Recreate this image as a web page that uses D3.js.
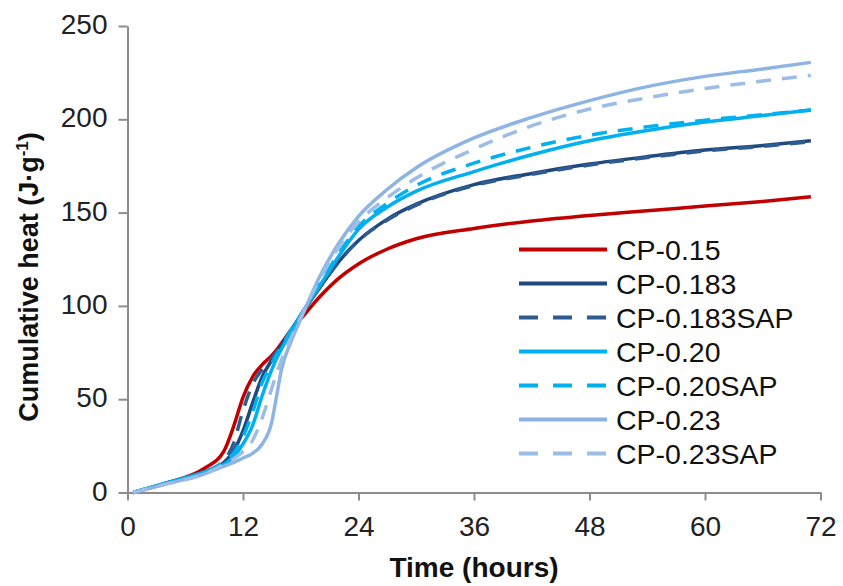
<!DOCTYPE html>
<html>
<head>
<meta charset="utf-8">
<script src="https://cdn.jsdelivr.net/npm/d3@7"></script>
<style>
  body { margin: 0; background: #fff; }
  svg { display: block; font-family: "Liberation Sans", Arial, Helvetica, sans-serif; }
</style>
</head>
<body>
<div id="chart"></div>
<script>
// sampling times (hours) shared by all series
const hours = [0.6, 4, 8, 10, 11, 12, 13, 14, 15, 15.5, 16, 17, 18, 20, 22, 24, 27, 30, 36, 42, 48, 54, 60, 66, 71];

// cumulative heat (J/g)
const cp015     = [0, 5, 13, 22, 35, 51, 62, 68.5, 73.5, 76.5, 80, 87, 93, 105, 115, 122.5, 130.5, 136, 141.5, 145.5, 148.5, 151, 153.5, 156, 158.5];
const cp0183    = [0, 5, 11, 16, 22, 33, 48, 62, 71, 75, 79, 87, 95, 110, 124, 135, 146.5, 154.5, 165, 171, 176, 180, 183.5, 186, 188.5];
const cp0183sap = [0, 5, 11, 17, 26, 44, 58, 66, 72, 75.5, 79, 87, 95, 110, 124, 135, 146, 154, 164.5, 170.5, 175.5, 179.5, 183, 185.5, 188];
const cp020     = [0, 5, 11, 15, 19, 26, 36, 52, 66, 72, 77, 86, 95, 111, 127, 141, 153, 161.5, 172, 181, 188.5, 194, 198.5, 202, 205];
const cp020sap  = [0, 5, 11, 16, 21, 30, 43, 59, 69, 74, 78, 87, 95, 112, 128.5, 142.5, 155, 164.5, 176.5, 185, 191.5, 196, 199.5, 202.5, 205];
const cp023     = [0, 4.5, 10, 14, 16, 18.5, 21, 26, 38, 52, 66, 81, 93, 116, 134, 148, 162.5, 174, 190, 201, 210, 217.5, 223, 227, 230.5];
const cp023sap  = [0, 4.5, 10, 15, 18, 22, 28, 40, 56, 64, 71, 83, 94, 114.5, 132, 145, 158, 168.5, 184, 196.5, 205.5, 211.5, 216.5, 220.5, 223.5];

const seriesNames = ['CP-0.15', 'CP-0.183', 'CP-0.183SAP', 'CP-0.20', 'CP-0.20SAP', 'CP-0.23', 'CP-0.23SAP'];
const seriesValues = [cp015, cp0183, cp0183sap, cp020, cp020sap, cp023, cp023sap];
const seriesColors = ['#C00000', '#1F497D', '#2E5C92', '#00B0F0', '#00B0F0', '#8DB4E2', '#9DBDE6'];
const seriesDashed = [false, false, true, false, true, false, true];

const xTicks = [0, 12, 24, 36, 48, 60, 72];
const yTicks = [0, 50, 100, 150, 200, 250];

const width = 843, height = 586;
const margin = {left: 127.5, right: 22.5, top: 26, bottom: 93.5};

const svg = d3.select('#chart').append('svg')
    .attr('width', width)
    .attr('height', height);

const x = d3.scaleLinear().domain([0, 72]).range([margin.left, width - margin.right]);
const y = d3.scaleLinear().domain([0, 250]).range([height - margin.bottom, margin.top]);

// axes
const axisColor = '#8C8C8C';

const xAxis = svg.append('g')
    .attr('transform', `translate(0,${y(0)})`)
    .call(d3.axisBottom(x).tickValues(xTicks).tickSize(8).tickSizeOuter(0).tickPadding(16));
const yAxis = svg.append('g')
    .attr('transform', `translate(${x(0)},0)`)
    .call(d3.axisLeft(y).tickValues(yTicks).tickSize(9).tickSizeOuter(0).tickPadding(11));

[xAxis, yAxis].forEach(a => {
    a.select('.domain').attr('stroke', axisColor).attr('stroke-width', 2);
    a.selectAll('.tick line').attr('stroke', axisColor).attr('stroke-width', 2);
    a.selectAll('.tick text')
        .attr('fill', '#222')
        .style('font-size', '28px')
        .style('font-family', '"Liberation Sans", Arial, sans-serif');
});
yAxis.selectAll('.tick text').attr('dy', '0.27em');
xAxis.selectAll('.tick text').attr('dy', '0.71em');

// lines
const line = d3.line()
    .x((d, i) => x(hours[i]))
    .y(d => y(d))
    .curve(d3.curveMonotoneX);

seriesValues.forEach((vals, i) => {
    svg.append('path')
        .datum(vals)
        .attr('fill', 'none')
        .attr('stroke', seriesColors[i])
        .attr('stroke-width', 3.5)
        .attr('stroke-dasharray', seriesDashed[i] ? '15,11' : null)
        .attr('d', line);
});

// legend
const legend = svg.append('g');
const legY0 = 249.5, legStep = 34;
seriesNames.forEach((name, i) => {
    const ly = legY0 + i * legStep;
    legend.append('line')
        .attr('x1', 519).attr('x2', 607)
        .attr('y1', ly).attr('y2', ly)
        .attr('stroke', seriesColors[i])
        .attr('stroke-width', 4)
        .attr('stroke-dasharray', seriesDashed[i] ? '19,15' : null);
    legend.append('text')
        .attr('x', 616).attr('y', ly + 10.5)
        .attr('fill', '#111')
        .style('font-size', '28.5px')
        .text(name);
});

// axis titles
svg.append('text')
    .attr('x', x(36)).attr('y', 577)
    .attr('text-anchor', 'middle')
    .style('font-size', '28px')
    .style('font-weight', 'bold')
    .attr('fill', '#111')
    .text('Time (hours)');

const yTitle = svg.append('text')
    .attr('transform', 'translate(37.5,277) rotate(-90)')
    .attr('text-anchor', 'middle')
    .style('font-size', '27px')
    .style('font-weight', 'bold')
    .attr('fill', '#111');
yTitle.append('tspan').text('Cumulative heat (J·g');
yTitle.append('tspan').attr('dy', -10).style('font-size', '17px').text('-1');
yTitle.append('tspan').attr('dy', 10).text(')');
</script>
</body>
</html>
